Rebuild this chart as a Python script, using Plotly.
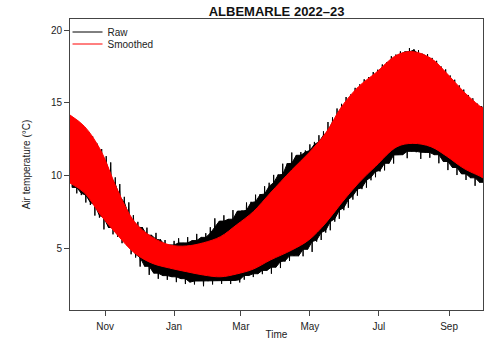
import pandas as pd
import plotly.graph_objects as go

# Smoothed series envelope (daily high / low of the fitted curve), degrees C
smooth_dates = [
    "2022-10-01", "2022-10-14", "2022-10-28", "2022-11-12", "2022-11-27",
    "2022-12-12", "2022-12-28", "2023-01-12", "2023-01-27", "2023-02-11",
    "2023-02-25", "2023-03-12", "2023-03-27", "2023-04-15", "2023-04-30",
    "2023-05-15", "2023-05-29", "2023-06-13", "2023-06-28", "2023-07-17",
    "2023-07-31", "2023-08-16", "2023-08-30", "2023-09-14", "2023-09-29",
    "2023-10-01",
]
smooth_high = [
    14.15, 13.35, 11.74, 8.99, 6.81, 5.78, 5.21, 5.14, 5.36, 5.78,
    6.58, 7.50, 8.78, 10.37, 11.54, 12.91, 14.72, 16.10, 17.04, 18.28,
    18.51, 18.05, 17.02, 15.75, 14.72, 14.63,
]
smooth_low = [
    9.47, 8.78, 7.27, 5.89, 4.66, 3.97, 3.62, 3.37, 3.14, 3.02,
    3.21, 3.55, 4.17, 4.86, 5.55, 6.72, 8.10, 9.47, 10.62, 11.97,
    12.20, 11.97, 11.31, 10.48, 9.91, 9.82,
]

# Raw logger record, degrees C: a peak every 4 days from 1 Oct 2022,
# each followed two days later by a trough
raw_max = [
    13.95, 13.70, 13.51, 13.31, 13.00, 12.69, 12.18, 11.81, 11.32, 10.89,
    9.86, 9.40, 8.52, 8.14, 7.26, 6.80, 6.43, 6.40, 5.88, 6.04,
    5.60, 5.55, 5.21, 5.49, 5.67, 5.35, 5.75, 5.51, 5.97, 5.73,
    6.02, 6.43, 7.04, 6.85, 7.25, 6.98, 7.61, 7.54, 7.59, 8.13,
    8.18, 8.67, 8.71, 9.25, 9.49, 10.03, 10.06, 10.80, 10.83, 11.57,
    11.38, 11.60, 11.71, 12.13, 12.30, 12.76, 13.03, 13.67, 13.99, 14.60,
    14.92, 15.39, 15.56, 16.02, 16.26, 16.61, 16.76, 17.11, 17.27, 17.63,
    17.79, 18.20, 18.31, 18.53, 18.50, 18.76, 18.68, 18.62, 18.35, 18.34,
    18.08, 17.88, 17.49, 17.29, 16.87, 16.58, 16.19, 15.90, 15.53, 15.30,
    14.93, 14.73,
]
raw_min = [
    9.17, 8.76, 8.64, 8.13, 7.96, 7.23, 7.09, 6.28, 6.41, 5.94,
    5.77, 5.33, 5.20, 4.57, 4.34, 3.72, 3.74, 3.15, 3.27, 2.88,
    3.10, 2.81, 3.02, 2.65, 2.89, 2.52, 2.65, 2.49, 2.73, 2.37,
    2.72, 2.49, 2.76, 2.53, 2.76, 2.52, 2.77, 2.63, 2.82, 3.11,
    3.00, 3.23, 3.20, 3.46, 3.23, 3.68, 3.62, 4.07, 4.11, 4.46,
    4.44, 4.43, 4.91, 4.73, 5.44, 5.55, 6.06, 6.22, 6.81, 7.01,
    7.60, 7.77, 8.33, 8.60, 9.05, 9.15, 9.66, 9.87, 10.26, 10.34,
    10.83, 10.81, 11.40, 11.42, 11.18, 11.65, 11.59, 11.13, 11.57, 11.21,
    11.42, 10.83, 10.95, 10.36, 10.54, 10.02, 10.10, 9.68, 9.83, 9.28,
    9.52, 9.26,
]
peak_dates = pd.date_range("2022-10-01", periods=len(raw_max), freq="4D")
trough_dates = peak_dates + pd.Timedelta(days=2)

# Interleave peaks and troughs into one continuous raw trace
raw_x, raw_y = [], []
for pk, hi, tr, lo in zip(peak_dates, raw_max, trough_dates, raw_min):
    raw_x += [pk, tr]
    raw_y += [hi, lo]

# Dense core of the raw trace: the range reached on consecutive days,
# i.e. the lowest neighbouring peak and the highest neighbouring trough
core_hi = pd.Series(raw_max).rolling(3, center=True, min_periods=1).min()
core_lo = pd.Series(raw_min).rolling(3, center=True, min_periods=1).max()

FONT = "Liberation Sans, Arial, sans-serif"
AXIS_COL = "#444444"
TEXT_COL = "#222222"

fig = go.Figure()

fig.add_trace(go.Scatter(
    x=peak_dates, y=core_hi, mode="lines", showlegend=False,
    line=dict(color="black", width=1),
))
fig.add_trace(go.Scatter(
    x=trough_dates, y=core_lo, mode="lines", showlegend=False,
    line=dict(color="black", width=1), fill="tonexty", fillcolor="black",
))
fig.add_trace(go.Scatter(
    x=raw_x, y=raw_y, mode="lines", showlegend=False,
    line=dict(color="black", width=1),
))

# Smoothed series: red band drawn over the raw data
fig.add_trace(go.Scatter(
    x=smooth_dates, y=smooth_high, mode="lines", showlegend=False,
    line=dict(color="#ff0000", width=1, shape="spline"),
))
fig.add_trace(go.Scatter(
    x=smooth_dates, y=smooth_low, mode="lines", showlegend=False,
    line=dict(color="#ff0000", width=1, shape="spline"),
    fill="tonexty", fillcolor="#ff0000",
))

# Legend entries, one legend box each so their spacing can be set
fig.add_trace(go.Scatter(
    x=[None], y=[None], mode="lines", name="Raw", legend="legend",
    line=dict(color="black", width=1),
))
fig.add_trace(go.Scatter(
    x=[None], y=[None], mode="lines", name="Smoothed", legend="legend2",
    line=dict(color="#ff0000", width=1),
))

legend_style = dict(
    xanchor="left", yanchor="middle", x=-0.006,
    bgcolor="rgba(0,0,0,0)", borderwidth=0,
    font=dict(family=FONT, size=10, color=TEXT_COL),
    itemwidth=30,
)

fig.update_layout(
    width=487, height=340,
    margin=dict(l=70, r=4, t=19, b=30, autoexpand=False),
    paper_bgcolor="white", plot_bgcolor="white",
    font=dict(family=FONT, size=10, color=TEXT_COL),
    title=dict(
        text="<b>ALBEMARLE 2022\u201323</b>",
        font=dict(family=FONT, size=13, color="#111111"),
        x=0.568, xref="container", xanchor="center",
        y=1 - 11 / 340, yref="container", yanchor="middle",
    ),
    legend=dict(y=(310 - 32) / 291, **legend_style),
    legend2=dict(y=(310 - 44) / 291, **legend_style),
    showlegend=True,
)

fig.update_xaxes(
    range=["2022-10-01", "2023-10-01"],
    tick0="2022-11-01", dtick="M2", tickformat="%b",
    ticks="outside", ticklen=5, tickcolor=AXIS_COL, tickwidth=1,
    ticklabelstandoff=2, automargin=False,
    showline=True, linecolor=AXIS_COL, linewidth=1, mirror=True,
    showgrid=False, zeroline=False,
    tickfont=dict(family=FONT, size=10, color=TEXT_COL),
    title=dict(text="Time", standoff=7,
               font=dict(family=FONT, size=10, color=TEXT_COL)),
)
fig.update_yaxes(
    range=[0.734, 20.757],
    tickvals=[5, 10, 15, 20],
    ticks="outside", ticklen=5, tickcolor=AXIS_COL, tickwidth=1,
    automargin=False,
    showline=True, linecolor=AXIS_COL, linewidth=1, mirror=True,
    showgrid=False, zeroline=False,
    tickfont=dict(family=FONT, size=10, color=TEXT_COL),
    title=dict(text="Air temperature (\u00b0C)", standoff=18,
               font=dict(family=FONT, size=10, color=TEXT_COL)),
)

fig.write_html("out.html")
